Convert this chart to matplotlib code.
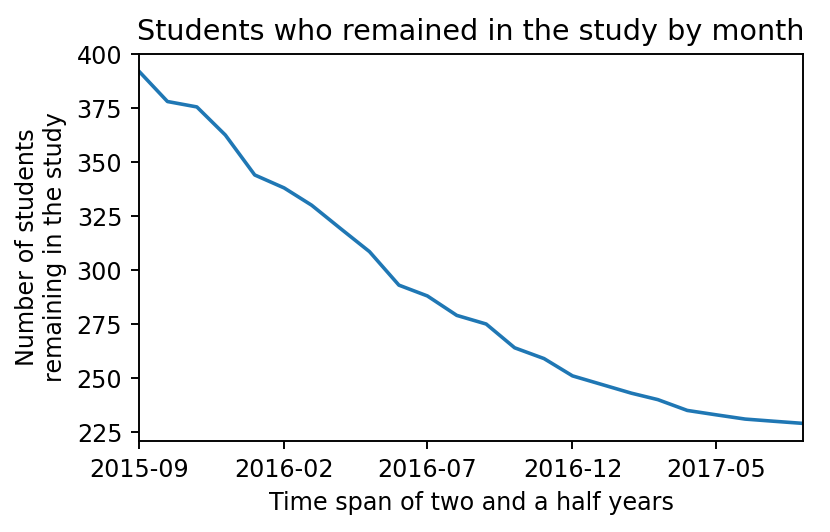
import matplotlib
matplotlib.use("Agg")
import matplotlib.pyplot as plt
import matplotlib.dates as mdates
import pandas as pd

months = pd.date_range("2015-09-01", "2017-08-01", freq="MS")
students = [392, 378, 375.5, 362.5, 344, 338, 330, 319, 308.5, 293, 288, 279,
            275, 264, 259, 251, 247, 243, 240, 235, 233, 231, 230, 229]
tick_labels = ["2015-09", "2016-02", "2016-07", "2016-12", "2017-05"]
y_ticks = [225, 250, 275, 300, 325, 350, 375, 400]

dpi = 172
fig = plt.figure(figsize=(830 / dpi, 532 / dpi), dpi=dpi)
ax = fig.add_axes([139 / 830, 1 - 441 / 532, (803 - 139) / 830, (441 - 54) / 532])
ax.plot(months, students, color="#1f77b4", linewidth=1.5)
ax.set_xlim(months[0], months[-1])
ax.set_ylim(top=400)
ax.set_yticks(y_ticks)
ax.set_xticks(pd.to_datetime(tick_labels))
ax.xaxis.set_major_formatter(mdates.DateFormatter("%Y-%m"))
ax.set_title("Students who remained in the study by month")
ax.set_xlabel("Time span of two and a half years")
ax.set_ylabel("Number of students\nremaining in the study")
fig.savefig("out.png", dpi=dpi)
